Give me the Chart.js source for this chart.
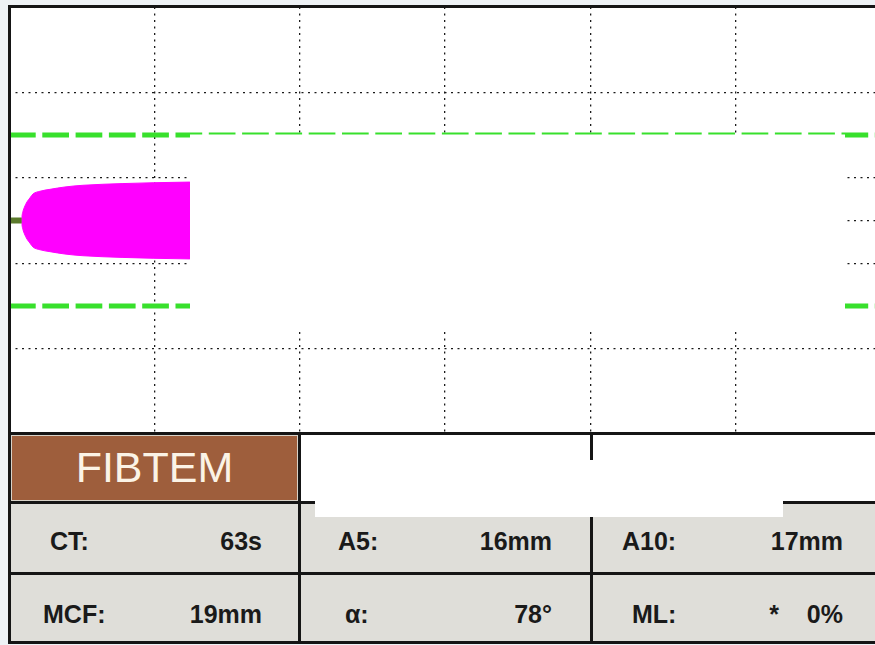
<!DOCTYPE html>
<html>
<head>
<meta charset="utf-8">
<script src="https://cdn.jsdelivr.net/npm/chart.js@4.4.1/dist/chart.umd.min.js"></script>
<style>
  body { margin:0; width:875px; height:645px; overflow:hidden; background:#eef2f5; position:relative;
         font-family:"Liberation Sans", Arial, sans-serif; }
  #plotbg { position:absolute; left:8px; top:5px; width:890px; height:430px; background:#fff; }
  #plot { position:absolute; left:0; top:0; }
  #tbl { position:absolute; left:8px; top:432px; width:890px; height:212px; background:#151515; }
  .cell { position:absolute; background:#dfded9; }
  .white { background:#fff; }
  .brown { background:#9e5e3c; box-shadow: inset 0 0 0 1px #d8d2c8; color:#fbf3e6;
           font-size:43px; line-height:43px; text-align:center; }
  .stat { position:absolute; font-weight:bold; font-size:25px; line-height:25px; color:#1a1a1a; white-space:pre; }
  .val { text-align:right; width:120px; }
  #hide { position:absolute; left:315px; top:460px; width:468px; height:57px; background:#fff; }
  #frame { position:absolute; left:8px; top:5px; width:890px; height:639px; border:3px solid #151515;
           box-sizing:border-box; pointer-events:none; }
</style>
</head>
<body>
<div id="plotbg"></div>
<canvas id="plot" width="890" height="645"></canvas>
<div id="tbl">
  <div class="cell brown" style="left:3px;top:3px;width:287px;height:66px;"><div id="testName" style="padding-top:11px;"></div></div>
  <div class="cell white" style="left:293px;top:3px;width:289px;height:66px;"></div>
  <div class="cell white" style="left:585px;top:3px;width:305px;height:66px;"></div>
  <div class="cell" style="left:3px;top:72px;width:287px;height:68px;"></div>
  <div class="cell" style="left:293px;top:72px;width:289px;height:68px;"></div>
  <div class="cell" style="left:585px;top:72px;width:305px;height:68px;"></div>
  <div class="cell" style="left:3px;top:143px;width:287px;height:66px;"></div>
  <div class="cell" style="left:293px;top:143px;width:289px;height:66px;"></div>
  <div class="cell" style="left:585px;top:143px;width:305px;height:66px;"></div>
</div>
<div id="stats"></div>
<div id="hide"></div>
<div id="frame"></div>
<script>
// test name and result table
const testName = 'FIBTEM';
const statLabels = ['CT:', 'A5:', 'A10:', 'MCF:', 'α:', 'ML:'];
const statValues = ['63s', '16mm', '17mm', '19mm', '78°', '*    0%'];

// clot firmness trace (time in minutes, amplitude in mm)
const timeMin = [0.873, 0.907, 0.962, 1.065, 1.237, 1.443, 1.65, 2.13, 2.82, 3.85, 5.09, 7.84, 9.97, 12.44, 20, 30, 45, 57.5];
const amplitudeMm = [0, 2.6, 4.3, 6.3, 8.7, 10.6, 12.4, 13.7, 14.6, 15.7, 16.5, 17.3, 17.7, 18.0, 18.7, 19.0, 19.0, 19.0];
const baselineEnd = 0.873;     // flat line before the clot starts
const refAmplitude = 20;       // green dashed reference lines
const xGrid = [10, 20, 30, 40, 50];
const yGrid = [-30, -10, 0, 10, 30];

document.getElementById('testName').textContent = testName;

// label x, value right edge, baseline y (page coords)
const labelX = [50, 338, 622, 43, 345, 632];
const valueRight = [262, 552, 843, 262, 552, 843];
const rowBase = [550, 550, 550, 623, 623, 623];
const statsBox = document.getElementById('stats');
statLabels.forEach((lab, i) => {
  const l = document.createElement('div');
  l.className = 'stat';
  l.textContent = lab;
  l.style.left = labelX[i] + 'px';
  l.style.top = (rowBase[i] - 21) + 'px';
  statsBox.appendChild(l);
  const v = document.createElement('div');
  v.className = 'stat val';
  v.textContent = statValues[i];
  v.style.left = (valueRight[i] - 120) + 'px';
  v.style.top = (rowBase[i] - 21) + 'px';
  statsBox.appendChild(v);
});

const upper = timeMin.map((t, i) => ({ x: t, y: amplitudeMm[i] / 2 }));
const lower = timeMin.map((t, i) => ({ x: t, y: -amplitudeMm[i] / 2 }));

// white patch over the middle of the trace, as in the source image
const coverPlugin = {
  id: 'cover',
  afterDraw(chart) {
    const c = chart.ctx;
    c.save();
    c.fillStyle = '#fff';
    c.fillRect(190, 134.5, 655, 196.5);
    c.restore();
  }
};

const dotted = { display: false, dash: [2, 4.5] };

new Chart(document.getElementById('plot').getContext('2d'), {
  type: 'line',
  data: {
    datasets: [
      {
        data: [{ x: 0, y: 0 }, { x: baselineEnd, y: 0 }],
        borderColor: '#5b7a2c', borderWidth: 6, pointRadius: 0, order: 0
      },
      {
        data: upper, borderColor: '#ff00ff', backgroundColor: '#ff00ff', borderWidth: 1,
        pointRadius: 0, fill: '+1', cubicInterpolationMode: 'monotone', order: 1
      },
      {
        data: lower, borderColor: '#ff00ff', borderWidth: 1,
        pointRadius: 0, fill: false, cubicInterpolationMode: 'monotone', order: 1
      },
      {
        data: [{ x: 0, y: refAmplitude }, { x: 60, y: refAmplitude }],
        borderColor: '#38e02c', borderWidth: 5, borderDash: [26.7, 6.6], pointRadius: 0, order: 2
      },
      {
        data: [{ x: 0, y: -refAmplitude }, { x: 60, y: -refAmplitude }],
        borderColor: '#38e02c', borderWidth: 5, borderDash: [26.7, 6.6], pointRadius: 0, order: 2
      }
    ]
  },
  options: {
    responsive: false,
    animation: false,
    layout: { padding: { left: 9, top: 7, right: 9, bottom: 211 } },
    plugins: { legend: { display: false }, tooltip: { enabled: false } },
    scales: {
      x: {
        type: 'linear', min: 0, max: 60,
        ticks: { display: false },
        grid: { drawTicks: false, color: '#1a1a1a', lineWidth: 1.3 },
        border: dotted,
        afterBuildTicks: a => { a.ticks = xGrid.map(v => ({ value: v })); }
      },
      y: {
        min: -50, max: 50,
        ticks: { display: false },
        grid: { drawTicks: false, color: '#1a1a1a', lineWidth: 1.3 },
        border: dotted,
        afterBuildTicks: a => { a.ticks = yGrid.map(v => ({ value: v })); }
      }
    }
  },
  plugins: [coverPlugin]
});
</script>
</body>
</html>
